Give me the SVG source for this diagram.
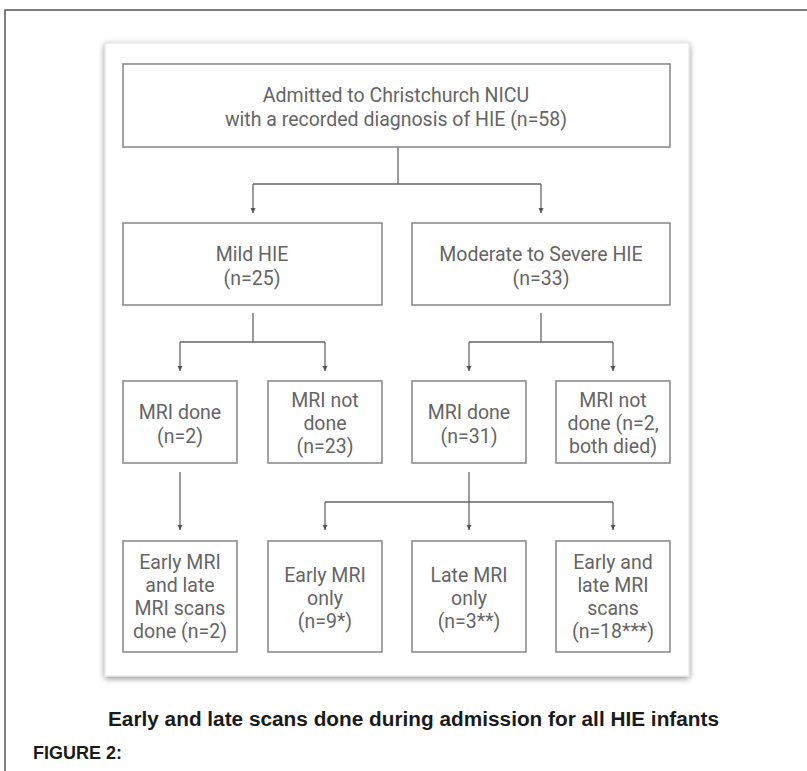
<svg xmlns="http://www.w3.org/2000/svg" width="807" height="771" viewBox="0 0 807 771">
<style>
.box{fill:#fff;stroke:#8c8c8c;stroke-width:1.6}
.t{font-family:Roboto,"Liberation Sans",sans-serif;font-size:19.5px;fill:#656565;text-anchor:middle}
.c{fill:none;stroke:#666;stroke-width:1.3}
</style>
<defs>
<filter id="sh" x="-5%" y="-5%" width="110%" height="110%">
<feGaussianBlur in="SourceAlpha" stdDeviation="3"/>
<feOffset dy="2" result="b"/>
<feComponentTransfer><feFuncA type="linear" slope="0.45"/></feComponentTransfer>
<feMerge><feMergeNode/><feMergeNode in="SourceGraphic"/></feMerge>
</filter>
<marker id="ah" markerWidth="6" markerHeight="6" refX="5" refY="3" orient="auto" markerUnits="userSpaceOnUse">
<path d="M0,0.5 L5,3 L0,5.5 Z" fill="#555"/>
</marker>
</defs>
<rect width="807" height="771" fill="#fff"/>
<path d="M5,771 V10 H807" fill="none" stroke="#555" stroke-width="1.5"/>
<rect x="105" y="43" width="584" height="633" fill="#fff" stroke="#e2e2e2" stroke-width="1" filter="url(#sh)"/>

<g id="connectors">
<path class="c" d="M398,147 V184 M253,184 H541"/>
<path class="c" d="M253,184 V213" marker-end="url(#ah)"/>
<path class="c" d="M541,184 V213" marker-end="url(#ah)"/>
<path class="c" d="M253,313 V342 M180,342 H325"/>
<path class="c" d="M180,342 V371" marker-end="url(#ah)"/>
<path class="c" d="M325,342 V371" marker-end="url(#ah)"/>
<path class="c" d="M541,313 V342 M469,342 H613"/>
<path class="c" d="M469,342 V371" marker-end="url(#ah)"/>
<path class="c" d="M613,342 V371" marker-end="url(#ah)"/>
<path class="c" d="M180,472 V530" marker-end="url(#ah)"/>
<path class="c" d="M469,472 V530" marker-end="url(#ah)"/>
<path class="c" d="M325,502 H613"/>
<path class="c" d="M325,502 V530" marker-end="url(#ah)"/>
<path class="c" d="M613,502 V530" marker-end="url(#ah)"/>
</g>

<g id="admitted">
<rect class="box" x="123" y="64" width="547" height="83"/>
<text class="t" x="396" y="102">Admitted to Christchurch NICU<tspan x="396" dy="24">with a recorded diagnosis of HIE (n=58)</tspan></text>
</g>
<g id="mild">
<rect class="box" x="123" y="223" width="259" height="82"/>
<text class="t" x="252" y="261">Mild HIE<tspan x="252" dy="24">(n=25)</tspan></text>
</g>
<g id="modsev">
<rect class="box" x="412" y="223" width="258" height="82"/>
<text class="t" x="541" y="261">Moderate to Severe HIE<tspan x="541" dy="24">(n=33)</tspan></text>
</g>
<g id="mild-mri-done">
<rect class="box" x="123" y="381" width="114" height="82"/>
<text class="t" x="180" y="419">MRI done<tspan x="180" dy="23.5">(n=2)</tspan></text>
</g>
<g id="mild-mri-not">
<rect class="box" x="268" y="381" width="114" height="82"/>
<text class="t" x="325" y="407">MRI not<tspan x="325" dy="23">done</tspan><tspan x="325" dy="23">(n=23)</tspan></text>
</g>
<g id="mod-mri-done">
<rect class="box" x="412" y="381" width="114" height="82"/>
<text class="t" x="469" y="419">MRI done<tspan x="469" dy="23.5">(n=31)</tspan></text>
</g>
<g id="mod-mri-not">
<rect class="box" x="556" y="381" width="114" height="82"/>
<text class="t" x="613" y="407">MRI not<tspan x="613" dy="23">done (n=2,</tspan><tspan x="613" dy="23">both died)</tspan></text>
</g>
<g id="mild-both">
<rect class="box" x="123" y="541" width="114" height="111"/>
<text class="t" x="180" y="569">Early MRI<tspan x="180" dy="23">and late</tspan><tspan x="180" dy="23">MRI scans</tspan><tspan x="180" dy="23">done (n=2)</tspan></text>
</g>
<g id="early-only">
<rect class="box" x="268" y="541" width="114" height="111"/>
<text class="t" x="325" y="582">Early MRI<tspan x="325" dy="23">only</tspan><tspan x="325" dy="23">(n=9*)</tspan></text>
</g>
<g id="late-only">
<rect class="box" x="412" y="541" width="114" height="111"/>
<text class="t" x="469" y="582">Late MRI<tspan x="469" dy="23">only</tspan><tspan x="469" dy="23">(n=3**)</tspan></text>
</g>
<g id="early-late">
<rect class="box" x="556" y="541" width="114" height="111"/>
<text class="t" x="613" y="569">Early and<tspan x="613" dy="23">late MRI</tspan><tspan x="613" dy="23">scans</tspan><tspan x="613" dy="23">(n=18***)</tspan></text>
</g>

<text x="108" y="726" font-family="'Liberation Sans',Arial,sans-serif" font-weight="bold" font-size="19.5" fill="#1a1a1a" textLength="611" lengthAdjust="spacingAndGlyphs">Early and late scans done during admission for all HIE infants</text>
<text x="33" y="759" font-family="'Liberation Sans',Arial,sans-serif" font-weight="bold" font-size="19" fill="#1a1a1a" textLength="89" lengthAdjust="spacingAndGlyphs">FIGURE 2:</text>
</svg>
